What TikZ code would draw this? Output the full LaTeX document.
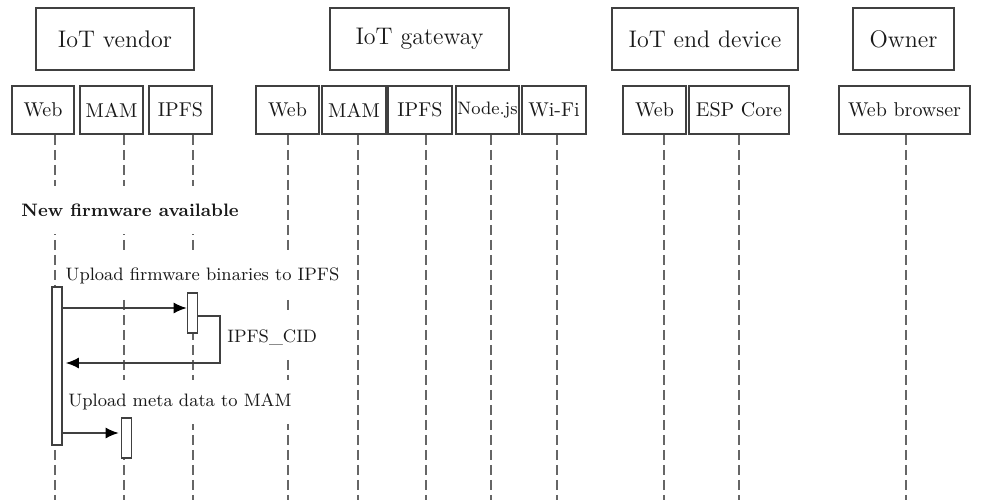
\documentclass[tikz,border=0pt]{standalone}
\usetikzlibrary{arrows.meta}
\begin{document}
\begin{tikzpicture}[x=0.5pt,y=-0.5pt,
  box/.style={draw=black!75,line width=0.9pt,text=black!90,inner sep=0pt},
  head/.style={box,minimum height=31pt,font=\large},
  part/.style={box,minimum height=24pt,font=\normalsize},
  life/.style={draw=black!60,line width=0.7pt,dash pattern=on 5pt off 2.5pt},
  act/.style={draw=black!75,fill=white,line width=0.8pt,minimum width=5pt,inner sep=0pt},
  msg/.style={draw=black!75,line width=0.8pt,-{Latex[length=6.5pt,width=5.5pt,color=black,fill=black]}},
  lbl/.style={fill=white,text=black!90,font=\small,inner xsep=1.5pt,inner ysep=0pt,minimum height=22pt}]
\useasboundingbox (0,0) rectangle (987,500);

% participant groups
\node[head,minimum width=79pt]   (vendor)  at (115,39)   {IoT vendor};
\node[head,minimum width=89.5pt] (gateway) at (419.5,39) {IoT gateway};
\node[head,minimum width=93pt]   (device)  at (705,39)   {IoT end device};
\node[head,minimum width=50.5pt] (owner)   at (903.5,39) {Owner};

% components
\node[part,minimum width=31pt]   (vWeb)  at (43,110)    {Web};
\node[part,minimum width=31.5pt] (vMAM)  at (111.5,110) {MAM};
\node[part,minimum width=31.5pt] (vIPFS) at (180.5,110) {IPFS};
\node[part,minimum width=31.5pt] (gWeb)  at (287.5,110) {Web};
\node[part,minimum width=32pt]   (gMAM)  at (354,110)   {MAM};
\node[part,minimum width=32pt]   (gIPFS) at (420,110)   {IPFS};
\node[part,minimum width=31.5pt,font=\small] (gNode) at (487.5,110) {Node.js};
\node[part,minimum width=32pt]   (gWiFi) at (554,110)   {Wi-Fi};
\node[part,minimum width=31.5pt] (eWeb)  at (654.5,110) {Web};
\node[part,minimum width=50pt]   (eESP)  at (739,110)   {ESP Core};
\node[part,minimum width=65.5pt] (oWeb)  at (904.5,110) {Web browser};

% lifelines
\foreach \n/\x in {vWeb/55,vMAM/124,vIPFS/193,gWeb/288,gMAM/358,gIPFS/426,gNode/491,gWiFi/557,eWeb/664,eESP/739,oWeb/906}{
  \coordinate (\n-end) at (\x,500);
  \draw[life] (\n.south -| \n-end) -- (\n-end);
}

% section title
\node[lbl,anchor=west,font=\small\bfseries,minimum height=24pt] (title) at (18,210) {New firmware available};

% message labels
\node[lbl] (l1) at (202.5,276) {Upload firmware binaries to IPFS};
\node[lbl,anchor=west] (l2) at (224,337) {IPFS\_CID};
\node[lbl] (l3) at (180,402) {Upload meta data to MAM};

% activations
\node[act,minimum height=79pt] (aWeb)  at (57,366)    {};
\node[act,minimum height=20pt] (aIPFS) at (192.5,313) {};
\node[act,minimum height=20pt] (aMAM)  at (126.5,438) {};

% messages
\coordinate (m1) at (0,308);
\coordinate (r1) at (220,316);
\coordinate (r2) at (220,363);
\coordinate (m3) at (0,433);
\draw[msg] (aWeb.east |- m1) -- (aIPFS.west |- m1);
\draw[msg,shorten >=1.5pt] (aIPFS.east |- r1) -- (r1) -- (r2) -- (aWeb.east |- r2);
\draw[msg,shorten >=1pt] (aWeb.east |- m3) -- (aMAM.west |- m3);
\end{tikzpicture}
\end{document}
